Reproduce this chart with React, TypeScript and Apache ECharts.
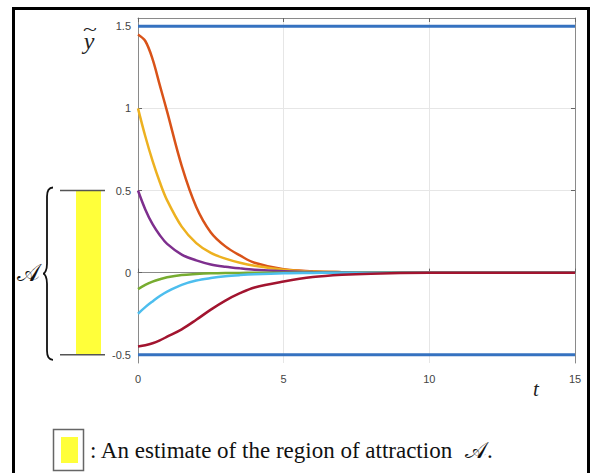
import React, { useEffect, useRef } from 'react';
import * as echarts from 'echarts';

// time samples (t)
const tValues = [0, 0.25, 0.5, 0.75, 1, 1.5, 2, 2.5, 3, 3.5, 4, 5, 6, 7, 8, 10, 12, 15];
// trajectories ỹ(t)
const curveOrange = [1.45, 1.41, 1.3, 1.14, 0.98, 0.65, 0.4, 0.245, 0.16, 0.105, 0.06, 0.02, 0.008, 0.003, 0.001, 0, 0, 0];
const curveYellow = [1.0, 0.83, 0.68, 0.55, 0.44, 0.28, 0.18, 0.12, 0.085, 0.06, 0.042, 0.018, 0.007, 0.003, 0.001, 0, 0, 0];
const curvePurple = [0.5, 0.385, 0.295, 0.228, 0.175, 0.11, 0.075, 0.05, 0.036, 0.026, 0.018, 0.009, 0.004, 0.002, 0, 0, 0, 0];
const curveGreen = [-0.1, -0.075, -0.055, -0.04, -0.028, -0.014, -0.008, -0.004, -0.002, -0.0015, -0.001, 0, 0, 0, 0, 0, 0, 0];
const curveCyan = [-0.25, -0.21, -0.175, -0.142, -0.115, -0.074, -0.048, -0.033, -0.022, -0.015, -0.01, -0.004, -0.002, 0, 0, 0, 0, 0];
const curveDarkRed = [-0.45, -0.442, -0.43, -0.412, -0.39, -0.345, -0.287, -0.225, -0.17, -0.125, -0.09, -0.054, -0.027, -0.013, -0.006, -0.001, 0, 0];

const limitLevels = [1.5, -0.5];
const regionBounds = [-0.5, 0.5];
const xRange = [0, 15];
const yRange = [-0.55, 1.55];
const xTicks = [0, 5, 10, 15];
const yTicks = [-0.5, 0, 0.5, 1, 1.5];

const curves = [
  { name: 'c1', data: curveOrange, color: '#D95319' },
  { name: 'c2', data: curveYellow, color: '#EDB120' },
  { name: 'c3', data: curvePurple, color: '#7E2F8E' },
  { name: 'c4', data: curveGreen, color: '#77AC30' },
  { name: 'c5', data: curveCyan, color: '#4DBEEE' },
  { name: 'c6', data: curveDarkRed, color: '#A2142F' },
];

const BRACE_D =
  'M10 0 C6 0 4 3 4 9 L4 76 C4 82 2 86 0 86 C2 86 4 90 4 96 L4 163 C4 169 6 172 10 172';
echarts.graphic.registerShape('brace', echarts.graphic.extendPath(BRACE_D, {}));

const sans = "'Liberation Sans', Arial, sans-serif";
const serif = "'Liberation Serif', 'DejaVu Serif', serif";

export default function App() {
  const ref = useRef<HTMLDivElement>(null);
  useEffect(() => {
    if (!ref.current) return;
    const chart = echarts.init(ref.current, null, { renderer: 'svg' });
    const axisColor = '#8a8a8a';
    const series: any[] = [];
    limitLevels.forEach((lv, i) => {
      series.push({
        name: 'limit' + i,
        type: 'line',
        data: [[xRange[0], lv], [xRange[1], lv]],
        symbol: 'none',
        lineStyle: { color: '#3572C0', width: 3 },
        z: 3,
      });
    });
    curves.forEach((c) => {
      series.push({
        name: c.name,
        type: 'line',
        data: tValues.map((t, i) => [t, c.data[i]]),
        symbol: 'none',
        smooth: 0.35,
        lineStyle: { color: c.color, width: 2.5 },
        z: 4,
      });
    });
    chart.setOption({
      animation: false,
      grid: { left: 138, right: 17, top: 18, bottom: 110, show: false },
      xAxis: [
        {
          type: 'value',
          min: xRange[0],
          max: xRange[1],
          interval: 5,
          axisLine: { show: true, lineStyle: { color: axisColor, width: 1 } },
          axisTick: { show: true, inside: true, length: 4, lineStyle: { color: '#666' } },
          axisLabel: { color: '#444', fontSize: 11, fontFamily: sans, margin: 10, customValues: xTicks },
          splitLine: { show: true, lineStyle: { color: '#e6e6e6', width: 1 } },
        },
        {
          type: 'value',
          position: 'top',
          min: xRange[0],
          max: xRange[1],
          interval: 5,
          axisLine: { show: true, onZero: false, lineStyle: { color: axisColor, width: 1 } },
          axisTick: { show: true, inside: true, length: 4, lineStyle: { color: '#666' } },
          axisLabel: { show: false },
          splitLine: { show: false },
        },
      ],
      yAxis: [
        {
          type: 'value',
          min: yRange[0],
          max: yRange[1],
          axisLine: { show: true, onZero: false, lineStyle: { color: axisColor, width: 1 } },
          axisTick: { show: true, inside: true, length: 4, lineStyle: { color: '#666' }, customValues: yTicks },
          axisLabel: {
            color: '#444',
            fontSize: 11,
            fontFamily: sans,
            margin: 7,
            customValues: yTicks,
            formatter: (v: number) => String(v),
          },
          splitLine: { show: true, lineStyle: { color: '#e6e6e6', width: 1 } },
        },
        {
          type: 'value',
          position: 'right',
          min: yRange[0],
          max: yRange[1],
          axisLine: { show: true, onZero: false, lineStyle: { color: axisColor, width: 1 } },
          axisTick: { show: true, inside: true, length: 4, lineStyle: { color: '#666' }, customValues: yTicks },
          axisLabel: { show: false, customValues: yTicks },
          splitLine: { show: false },
        },
      ],
      series,
    });

    const yTop = chart.convertToPixel({ yAxisIndex: 0 }, regionBounds[1]) as number;
    const yBot = chart.convertToPixel({ yAxisIndex: 0 }, regionBounds[0]) as number;
    const yMid = (yTop + yBot) / 2;
    const braceScale = (yBot - yTop + 8) / 172;

    chart.setOption({
      graphic: [
        {
          type: 'rect',
          shape: { x: 13.5, y: 8.5, width: 575, height: 480 },
          style: { fill: 'none', stroke: '#000', lineWidth: 3 },
          silent: true,
        },
        {
          type: 'rect',
          shape: { x: 76, y: yTop, width: 25, height: yBot - yTop },
          style: { fill: '#FFFF3A' },
        },
        {
          type: 'line',
          shape: { x1: 60, y1: yTop, x2: 105, y2: yTop },
          style: { stroke: '#555', lineWidth: 1.5 },
        },
        {
          type: 'line',
          shape: { x1: 60, y1: yBot, x2: 105, y2: yBot },
          style: { stroke: '#555', lineWidth: 1.5 },
        },
        {
          type: 'brace',
          x: 43,
          y: yTop - 3,
          scaleX: 1,
          scaleY: braceScale,
          style: { fill: 'none', stroke: '#111', lineWidth: 1.8, strokeNoScale: true },
        },
        {
          type: 'text',
          x: 28,
          y: yMid,
          style: {
            text: '𝒜',
            font: `24px ${serif}`,
            fill: '#111',
            align: 'center',
            verticalAlign: 'middle',
          },
        },
        {
          type: 'text',
          x: 89,
          y: 41,
          style: {
            text: 'y',
            font: `italic 24px ${serif}`,
            fill: '#222',
            align: 'center',
            verticalAlign: 'middle',
          },
        },
        {
          type: 'text',
          x: 90,
          y: 30,
          scaleX: 1.6,
          style: {
            text: '~',
            font: `16px ${serif}`,
            fill: '#222',
            align: 'center',
            verticalAlign: 'middle',
          },
        },
        {
          type: 'text',
          x: 536,
          y: 389,
          style: {
            text: 't',
            font: `italic 21px ${serif}`,
            fill: '#222',
            align: 'center',
            verticalAlign: 'middle',
          },
        },
        {
          type: 'rect',
          shape: { x: 53.5, y: 429.5, width: 30, height: 41 },
          style: { fill: '#fff', stroke: '#666', lineWidth: 1.5 },
        },
        {
          type: 'rect',
          shape: { x: 61, y: 437, width: 17, height: 26 },
          style: { fill: '#FFFF3A' },
        },
        {
          type: 'text',
          x: 90,
          y: 450,
          style: {
            text: ': An estimate of the region of attraction  {a|𝒜}.',
            font: `23px ${serif}`,
            fill: '#111',
            verticalAlign: 'middle',
            rich: { a: { font: `23px ${serif}`, fill: '#111' } },
          },
        },
      ],
    });
    return () => chart.dispose();
  }, []);
  return (
    <div
      ref={ref}
      style={{ position: 'fixed', left: 0, top: 0, width: 592, height: 473, background: '#fff' }}
    />
  );
}
